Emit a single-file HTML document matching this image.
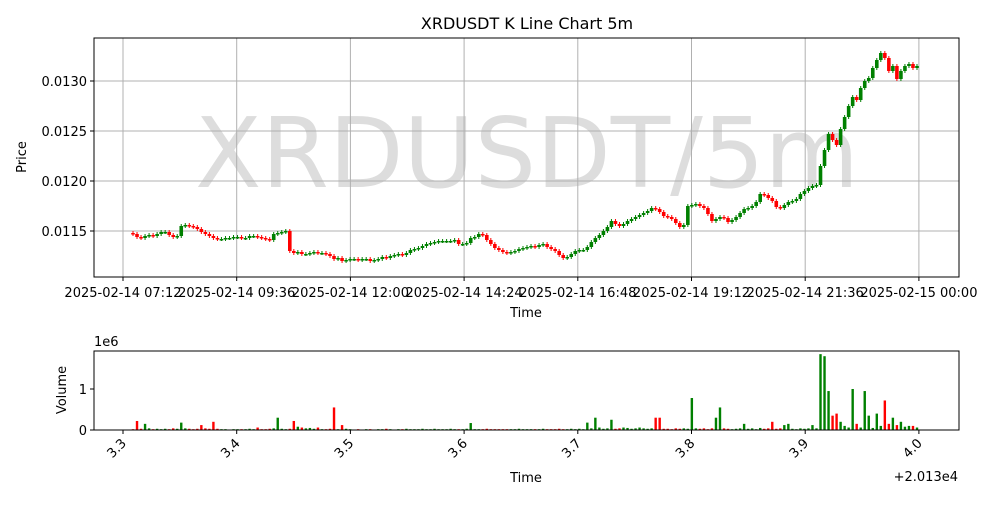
<!DOCTYPE html>
<html><head><meta charset="utf-8"><style>
body{margin:0;background:#fff;}
svg text{font-family:"DejaVu Sans","Liberation Sans",sans-serif;fill:#000;}
</style></head><body>
<svg id="c" width="1000" height="500" xmlns="http://www.w3.org/2000/svg">
<rect width="1000" height="500" fill="#fff"/>
<text x="527" y="29" font-size="16" text-anchor="middle">XRDUSDT K Line Chart 5m</text>
<text x="527" y="187" font-size="97" fill="#dddddd" style="fill:#dddddd" text-anchor="middle">XRDUSDT/5m</text>
<g id="grid"></g><g id="candles"></g><g id="vols"></g><g id="axes"></g>
<text transform="translate(26,157) rotate(-90)" font-size="13" text-anchor="middle">Price</text>
<text x="526" y="317" font-size="13" text-anchor="middle">Time</text>
<text x="94" y="346" font-size="13">1e6</text>
<text transform="translate(66,390) rotate(-90)" font-size="13" text-anchor="middle">Volume</text>
<text x="526" y="482" font-size="13" text-anchor="middle">Time</text>
<text x="958" y="481" font-size="13" text-anchor="end">+2.013e4</text>
</svg>
<script>
const closes=[1147,1144,1143,1145,1146,1145,1147,1149,1149,1146,1144,1145,1155,
1156,1155,1154,1152,1149,1147,1145,1143,
1142,1142,1143,1143,1144,1144,1143,1143,1145,1145,1144,1143,1142,
1141,1147,1148,1149,1150,
1130,1128,1129,1127,1127,1128,1129,1128,1128,1127,1125,1122,1123,
1120,1121,1122,1122,1121,1122,1122,1120,1121,1122,
1124,1123,1125,1126,1127,1126,1128,1131,1132,1133,1135,1137,1138,1139,1140,1140,1140,1140,1141,1137,1137,1138,1143,1144,1147,1146,1141,1137,1133,1131,1129,1128,1129,1130,1132,1133,1134,1135,1134,1136,1137,1134,1132,1130,1126,1123,1124,1127,1130,1131,1131,1134,
1139,1143,1146,1150,1154,1160,1157,1155,1157,1160,1162,1164,1166,1168,1170,1173,1172,1169,1165,1164,1162,1158,1154,1156,1175,1176,1177,1175,1173,1167,1160,1162,1164,1163,1159,1161,1164,1168,1172,1173,1175,1179,1187,1186,1183,1180,1174,1173,1176,1179,1180,1182,1187,1190,
1193,1195,1196,1215,1231,1247,1241,1236,1252,1264,1275,1284,1281,1293,1300,1303,1313,1321,1328,1323,1310,1315,1302,1310,1315,1317,1313,1315];
const volumesK=[20,220,30,150,40,20,30,20,30,20,40,30,180,40,30,20,30,120,40,30,200,30,20,20,10,20,20,20,20,30,20,60,20,20,30,40,300,30,20,30,220,80,60,40,50,30,60,20,20,30,550,20,120,30,20,10,20,10,20,20,10,20,20,30,20,10,20,20,30,20,20,20,30,20,20,30,20,20,20,30,20,20,20,30,170,20,20,20,30,20,20,20,20,20,20,20,30,20,20,20,20,20,30,20,20,20,30,20,20,30,20,30,20,180,40,300,60,30,40,250,30,40,60,50,30,40,60,40,30,40,300,300,30,30,20,40,30,40,30,780,40,30,40,20,40,300,550,40,30,20,30,40,150,30,40,20,50,30,40,200,30,40,120,150,30,20,40,30,40,120,40,1850,1800,950,350,400,200,100,60,1000,150,60,950,350,50,400,100,720,150,300,120,200,80,100,100,60];
const priceTicks=[0.0115,0.0120,0.0125,0.0130];
const timeLabels=["2025-02-14 07:12","2025-02-14 09:36","2025-02-14 12:00","2025-02-14 14:24","2025-02-14 16:48","2025-02-14 19:12","2025-02-14 21:36","2025-02-15 00:00"];
const volXLabels=["3.3","3.4","3.5","3.6","3.7","3.8","3.9","4.0"];
const volTicks=[0,1];
const NS="http://www.w3.org/2000/svg";
function mk(t,a,p){const e=document.createElementNS(NS,t);for(const k in a)e.setAttribute(k,a[k]);p.appendChild(e);return e;}
const L=94,R=959,PT=38,PB=277,VT=351,VB=430;
const yP=v=>231-(v-0.0115)*100000;
const yV=v=>VB-v*41;
const tickX=i=>123+i*113.7;
const n=closes.length;
const xC=i=>133+i*(917-133)/(n-1);
const grid=document.getElementById('grid'),ax=document.getElementById('axes');
timeLabels.forEach((t,i)=>{const x=tickX(i);
 const g=mk('line',{x1:x,x2:x,y1:PT,y2:PB,stroke:'#b0b0b0','stroke-width':1},grid);
 
 mk('line',{x1:x,x2:x,y1:PB,y2:PB+4,stroke:'#000'},ax);
 const tx=mk('text',{x:x,y:PB+20,'font-size':13,'text-anchor':'middle'},ax);tx.textContent=t;
 
 mk('line',{x1:x,x2:x,y1:VB,y2:VB+4,stroke:'#000'},ax);
 const vx=mk('text',{transform:`translate(${x+4},${VB+14}) rotate(-45)`,'font-size':13,'text-anchor':'end'},ax);vx.textContent=volXLabels[i];
 
});
priceTicks.forEach(v=>{const y=yP(v);
 const g=mk('line',{x1:L,x2:R,y1:y,y2:y,stroke:'#b0b0b0','stroke-width':1},grid);
 
 mk('line',{x1:L-4,x2:L,y1:y,y2:y,stroke:'#000'},ax);
 const t=mk('text',{x:L-7,y:y+5,'font-size':13,'text-anchor':'end'},ax);t.textContent=v.toFixed(4);
 
});
volTicks.forEach(v=>{const y=yV(v);
 mk('line',{x1:L-4,x2:L,y1:y,y2:y,stroke:'#000'},ax);
 const t=mk('text',{x:L-7,y:y+5,'font-size':13,'text-anchor':'end'},ax);t.textContent=v;
 
});
const cg=document.getElementById('candles'),vg=document.getElementById('vols');
for(let i=0;i<n;i++){
 const c=closes[i]/1e5,o=(i?closes[i-1]:closes[0]+1)/1e5;
 const up=c>=o,col=up?'#008000':'#ff0000',x=xC(i);
 const hi=Math.max(o,c)+0.00002,lo=Math.min(o,c)-0.00002;
 const w=mk('line',{x1:x,x2:x,y1:yP(hi),y2:yP(lo),stroke:col,'stroke-width':1},cg);
 
 const top=yP(Math.max(o,c)),h=Math.max(1.5,Math.abs(yP(o)-yP(c)));
 const b=mk('rect',{x:x-1.8,y:top,width:3.6,height:h,fill:col},cg);
 
 const vv=volumesK[i]/1000;
 const vb=mk('rect',{x:x-1.2,y:yV(vv),width:2.4,height:VB-yV(vv),fill:col},vg);
 
}
const f1=mk('rect',{x:L,y:PT,width:R-L,height:PB-PT,fill:'none',stroke:'#000'},ax);

const f2=mk('rect',{x:L,y:VT,width:R-L,height:VB-VT,fill:'none',stroke:'#000'},ax);

</script>
</body></html>
